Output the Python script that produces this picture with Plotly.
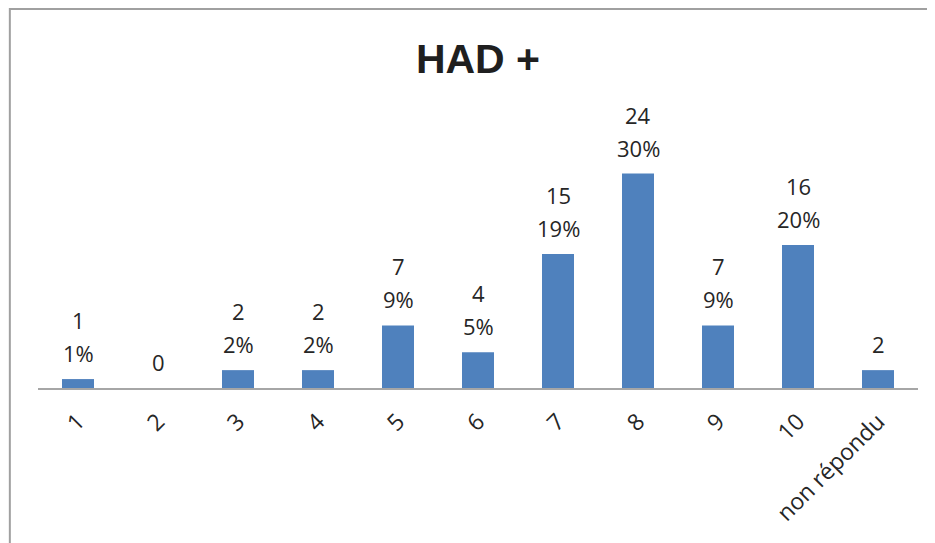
import plotly.graph_objects as go

# values
categories = ["1", "2", "3", "4", "5", "6", "7", "8", "9", "10", "non répondu"]
counts = [1, 0, 2, 2, 7, 4, 15, 24, 7, 16, 2]
percents = ["1%", None, "2%", "2%", "9%", "5%", "19%", "30%", "9%", "20%", None]

bar_color = "#4f81bd"
text_color = "#262626"
label_font = dict(family="Open Sans, Arial, sans-serif", size=22, color=text_color)

fig = go.Figure()

fig.add_trace(go.Bar(
    x=categories,
    y=counts,
    marker=dict(color=bar_color, line=dict(width=0)),
    hoverinfo="x+y",
))

# two-line data labels above each bar (count on top, percent below)
# category axis: annotations are placed by category index
for i, (n, pct) in enumerate(zip(counts, percents)):
    if pct is not None:
        fig.add_annotation(x=i, y=n, text=pct, showarrow=False,
                           yanchor="middle", yshift=26, font=label_font)
        fig.add_annotation(x=i, y=n, text=str(n), showarrow=False,
                           yanchor="middle", yshift=59, font=label_font)
    else:
        fig.add_annotation(x=i, y=n, text=str(n), showarrow=False,
                           yanchor="middle", yshift=26, font=label_font)

# outer chart frame (cropped on the right and bottom in the original)
fig.add_shape(type="rect", xref="paper", yref="paper",
              x0=-0.032, x1=1.2, y0=-1.0, y1=1.414,
              line=dict(color="#a0a0a0", width=2), layer="below")

# the page body adds an 8px offset, so the figure is 8px smaller
fig.update_layout(
    width=927,
    height=535,
    margin=dict(l=30, r=17, t=112, b=155, autoexpand=False),
    plot_bgcolor="white",
    paper_bgcolor="white",
    bargap=0.6,
    showlegend=False,
    title=dict(
        text="<b>HAD +</b>",
        x=0.5, xref="paper", xanchor="center",
        y=0.906, yref="container", yanchor="middle",
        font=dict(family="Liberation Sans, Arial, sans-serif", size=41, color="#1f1f1f"),
    ),
    xaxis=dict(
        type="category",
        range=[-0.5, 10.5],
        automargin=False,
        showline=True,
        linecolor="#a6a6a6",
        linewidth=2,
        showgrid=False,
        ticks="outside",
        ticklen=9,
        tickcolor="rgba(0,0,0,0)",
        tickangle=-45,
        tickfont=dict(family="Open Sans, Arial, sans-serif", size=23, color=text_color),
    ),
    yaxis=dict(
        range=[0, 30],
        visible=False,
        showgrid=False,
        zeroline=False,
        automargin=False,
    ),
)

fig.write_html("out.html")
